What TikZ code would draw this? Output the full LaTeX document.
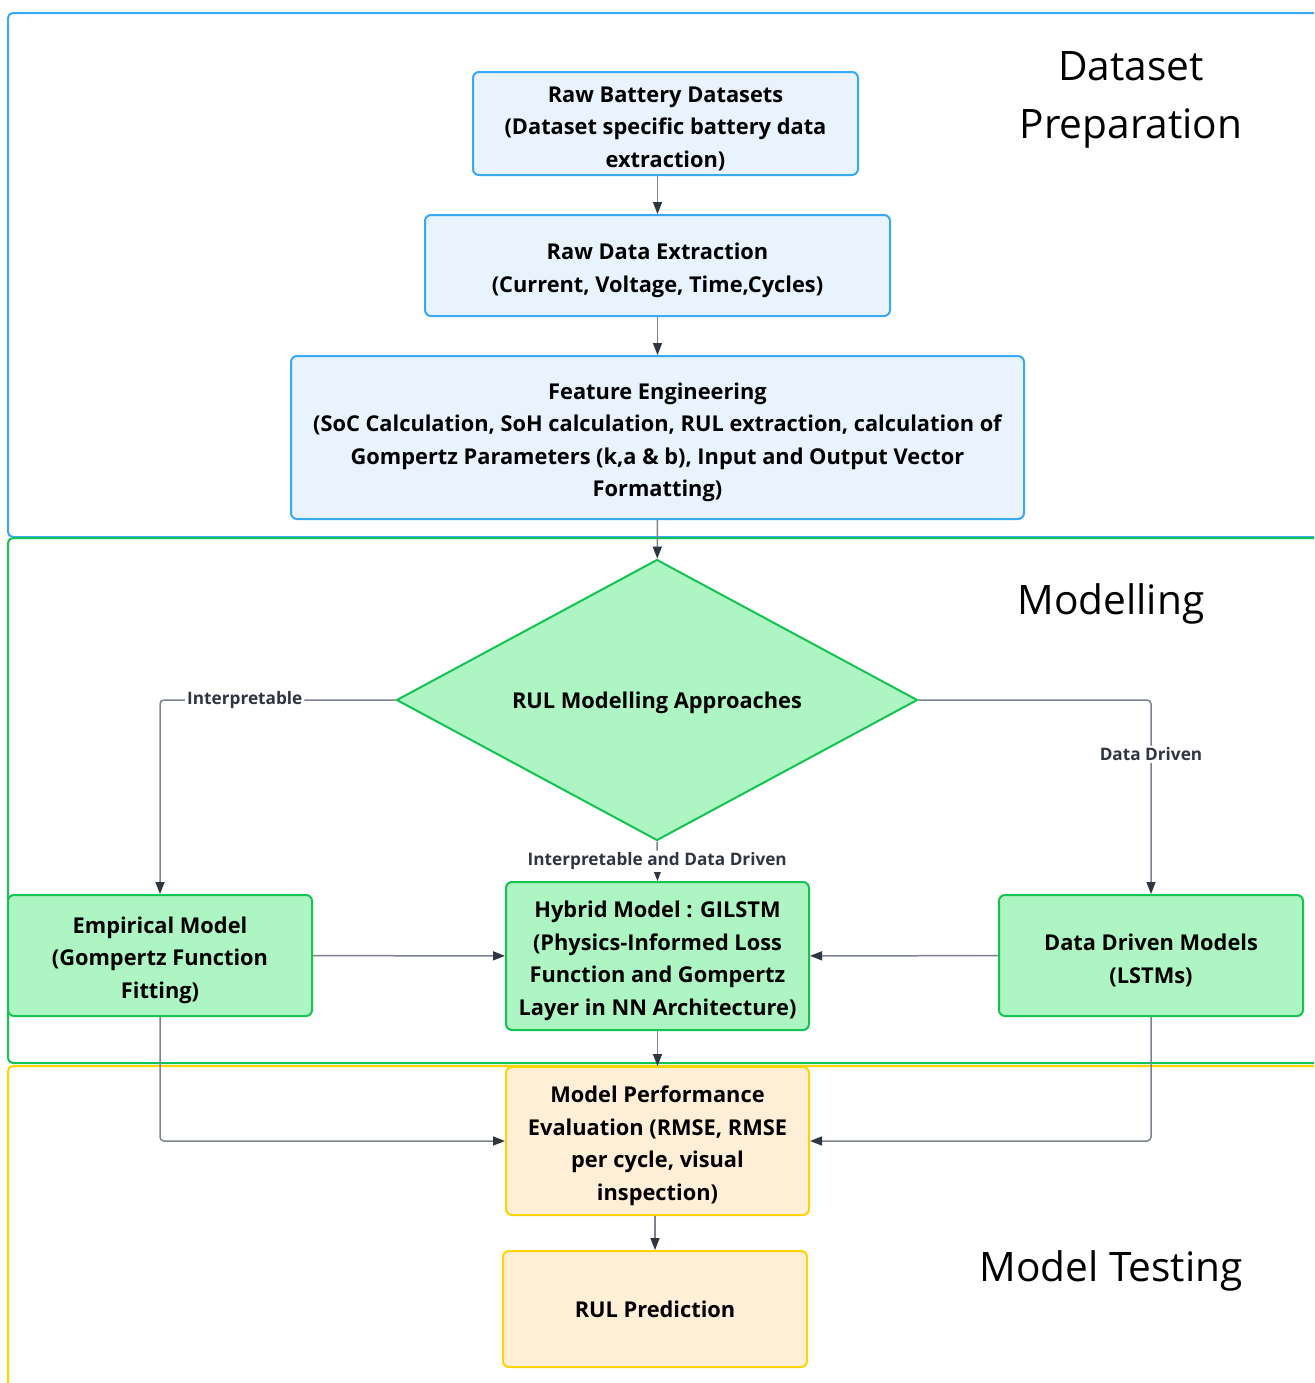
\documentclass[tikz,border=0pt]{standalone}
\usepackage{fontspec}
\setmainfont{Open Sans}
\usetikzlibrary{shapes.geometric,arrows.meta,positioning}
\definecolor{prepline}{HTML}{3AA8F8}
\definecolor{prepfill}{HTML}{E8F3FD}
\definecolor{modline}{HTML}{12C452}
\definecolor{modfill}{HTML}{AEF5C4}
\definecolor{testline}{HTML}{FFD500}
\definecolor{testfill}{HTML}{FFEFD6}
\definecolor{edgeline}{HTML}{7D838E}
\definecolor{edgetip}{HTML}{2F3642}
\newcommand{\boxfont}{\fontsize{10.9}{16.25}\selectfont\bfseries}
\newcommand{\topstrut}{\rule{0pt}{13pt}}
\tikzset{
  stage/.style={rectangle,rounded corners=3pt,line width=1pt,align=center,inner sep=0pt,font=\boxfont},
  prep/.style={stage,draw=prepline,fill=prepfill},
  model/.style={stage,draw=modline,fill=modfill},
  test/.style={stage,draw=testline,fill=testfill},
  frame/.style={rounded corners=2.5pt,line width=1pt},
  title/.style={align=center,font=\fontsize{20.3}{29}\selectfont},
  flow/.style={draw=edgeline,line width=0.75pt,rounded corners=2pt,-{Triangle[length=6pt,width=4.5pt,color=edgetip]}},
  lbl/.style={fill=white,inner sep=1pt,text=edgetip,font=\fontsize{8.6}{10}\selectfont\bfseries},
}

\begin{document}
\begin{tikzpicture}[x=0.5pt,y=-0.5pt]
  \clip (0,0) rectangle (1314,1383);
  % stage frames
  \draw[frame,draw=prepline] (8,13) rectangle (1340,537);
  \draw[frame,draw=modline] (8,538) rectangle (1340,1063);
  \draw[frame,draw=testline] (8,1066) rectangle (1340,1420);
  \node[title] (tprep) at (1131,100) {Dataset\\Preparation};
  \node[title] (tmodel) at (1111,604) {Modelling};
  \node[title] (ttest) at (1111,1271) {Model Testing};

  % dataset preparation
  \node[prep,minimum width=192.5pt,minimum height=51.5pt] (raw) at (665.5,123.5)
    {\topstrut Raw Battery Datasets\\(Dataset specific battery data\\extraction)};
  \node[prep,minimum width=232.5pt,minimum height=50.5pt] (extract) at (657.5,265.5)
    {\topstrut Raw Data Extraction\\(Current, Voltage, Time,Cycles)};
  \node[prep,minimum width=366.5pt,minimum height=81.5pt] (feat) at (657.5,437.5)
    {\topstrut Feature Engineering\\(SoC Calculation, SoH calculation, RUL extraction, calculation of\\Gompertz Parameters (k,a \& b), Input and Output Vector\\Formatting)};

  % modelling
  \node[diamond,aspect=1.85,draw=modline,fill=modfill,line width=1pt,inner sep=0pt,
        minimum width=260.5pt,minimum height=140.5pt,font=\boxfont] (appr) at (657,700)
    {\rule{0pt}{11pt}RUL Modelling Approaches};
  \node[model,minimum width=152pt,minimum height=60.5pt] (emp) at (160,955.5)
    {\topstrut Empirical Model\\(Gompertz Function\\Fitting)};
  \node[model,minimum width=151.5pt,minimum height=74pt] (hyb) at (657.5,956)
    {\topstrut Hybrid Model : GILSTM\\(Physics-Informed Loss\\Function and Gompertz\\Layer in NN Architecture)};
  \node[model,minimum width=152pt,minimum height=60.5pt] (dd) at (1151,955.5)
    {\topstrut Data Driven Models\\(LSTMs)};

  % model testing
  \node[test,minimum width=151.5pt,minimum height=74pt] (eval) at (657.5,1141)
    {\topstrut Model Performance\\Evaluation (RMSE, RMSE\\per cycle, visual\\inspection)};
  \node[test,minimum width=152pt,minimum height=58pt] (rul) at (655,1309)
    {RUL Prediction};

  % connectors
  \draw[flow] (raw.south -| extract.north) -- (extract.north);
  \draw[flow] (extract) -- (feat);
  \draw[flow] (feat) -- (appr);
  \draw[flow] (appr.west) -| node[lbl,pos=0.32] {Interpretable} (emp.north);
  \draw[flow] (appr.east) -| node[lbl,pos=0.64] {Data Driven} (dd.north);
  \draw[flow] (appr.south) -- node[lbl] {Interpretable and Data Driven} (hyb.north);
  \draw[flow] (emp) -- (hyb);
  \draw[flow] (dd) -- (hyb);
  \draw[flow] (hyb) -- (eval);
  \draw[flow] (emp.south) |- (eval.west);
  \draw[flow] (dd.south) |- (eval.east);
  \draw[flow] (eval.south -| rul.north) -- (rul.north);
\end{tikzpicture}
\end{document}
